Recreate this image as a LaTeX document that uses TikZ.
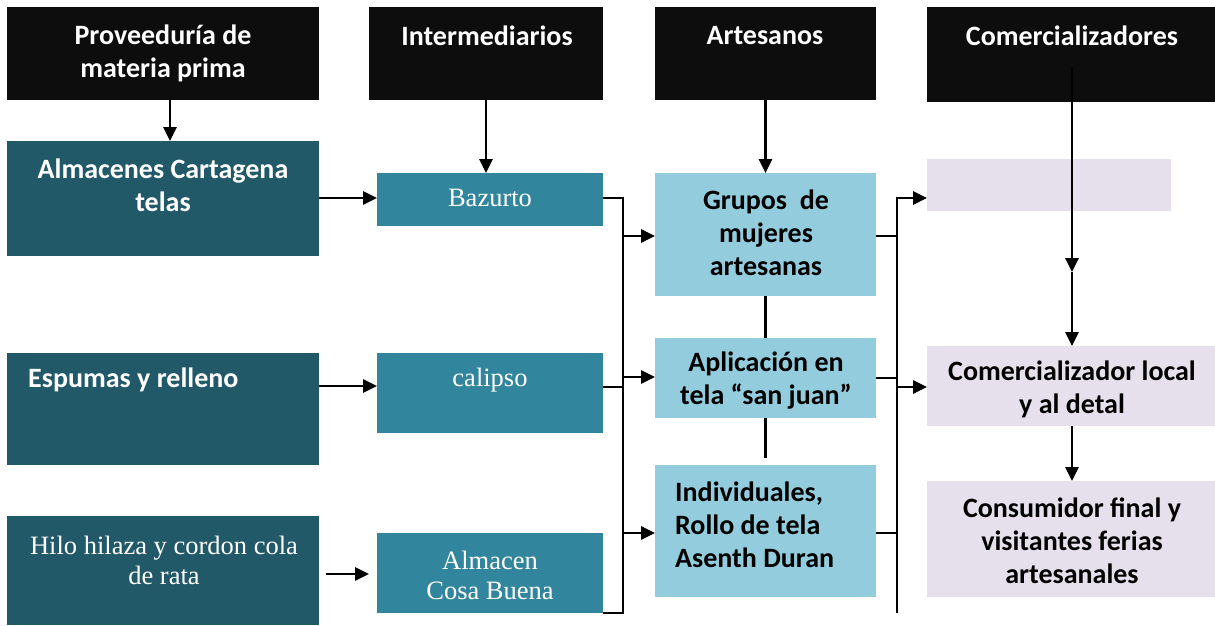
\documentclass[tikz,border=0pt]{standalone}
\usepackage{fontspec}
\setmainfont{Liberation Serif}
\newfontfamily\carl{Carlito}
\usetikzlibrary{arrows.meta}
\definecolor{hdr}{HTML}{0D0D0D}
\definecolor{dteal}{HTML}{215968}
\definecolor{mteal}{HTML}{31859C}
\definecolor{lblue}{HTML}{93CDDD}
\definecolor{lav}{HTML}{E5E0EC}
\begin{document}
\begin{tikzpicture}[x=1pt,y=-1pt,
  box/.style={anchor=north west, inner sep=0pt, outer sep=0pt, draw=none},
  hdrbox/.style={box, fill=hdr},
  dbox/.style={box, fill=dteal},
  mbox/.style={box, fill=mteal},
  lbox/.style={box, fill=lblue},
  vbox/.style={box, fill=lav},
  btxt/.style={font=\carl\bfseries\fontsize{28}{33}\selectfont, align=center, inner sep=0pt},
  wbtxt/.style={btxt, text=white},
  stxt/.style={font=\fontsize{26.5}{30}\selectfont, align=center, inner sep=0pt, text=white},
  ln/.style={line width=2.8pt, draw=black},
  arr/.style={ln, -{Triangle[length=14pt,width=13pt]}}
]
\useasboundingbox (0,0) rectangle (1215,625);
% headers
\node[hdrbox, minimum width=312pt, minimum height=93pt] (h1) at (7,7) {};
\node[hdrbox, minimum width=234pt, minimum height=93pt] (h2) at (369,7) {};
\node[hdrbox, minimum width=221pt, minimum height=93pt] (h3) at (655,7) {};
\node[hdrbox, minimum width=288pt, minimum height=95pt] (h4) at (927,7) {};
% column 1
\node[dbox, minimum width=312pt, minimum height=115pt] (alm) at (7,141) {};
\node[dbox, minimum width=312pt, minimum height=112pt] (esp) at (7,353) {};
\node[dbox, minimum width=312pt, minimum height=109pt] (hil) at (7,516) {};
% column 2
\node[mbox, minimum width=226pt, minimum height=53pt] (baz) at (377,173) {};
\node[mbox, minimum width=226pt, minimum height=80pt] (cal) at (377,353) {};
\node[mbox, minimum width=226pt, minimum height=80pt] (cos) at (377,533) {};
% column 3
\node[lbox, minimum width=221pt, minimum height=123pt] (gru) at (655,173) {};
\node[lbox, minimum width=221pt, minimum height=80pt] (apl) at (655,338) {};
\node[lbox, minimum width=221pt, minimum height=132pt] (ind) at (655,465) {};
% column 4
\node[vbox, minimum width=244pt, minimum height=52pt] (emp) at (927,159) {};
\node[vbox, minimum width=288pt, minimum height=80pt] (com) at (927,346) {};
\node[vbox, minimum width=288pt, minimum height=116pt] (con) at (927,481) {};
% texts
\node[wbtxt] (th1) at (163,53) {Proveeduría de\\materia prima};
\node[wbtxt] (th2) at (487,36) {Intermediarios};
\node[wbtxt] (th3) at (765,36) {Artesanos};
\node[wbtxt] (th4) at (1072,36) {Comercializadores};
\node[wbtxt] (talm) at (163,185) {Almacenes Cartagena\\telas};
\node[wbtxt, anchor=west] (tesp) at (28,380) {Espumas y relleno};
\node[stxt] (thil) at (164,560) {Hilo hilaza y cordon cola\\de rata};
\node[stxt] (tbaz) at (490,198) {Bazurto};
\node[stxt] (tcal) at (490,380) {calipso};
\node[stxt] (tcos) at (490,575) {Almacen\\Cosa Buena};
\node[btxt] (tgru) at (766,233) {Grupos~~de\\mujeres\\artesanas};
\node[btxt] (tapl) at (766,381) {Aplicación en\\tela “san juan”};
\node[btxt, anchor=west, align=left] (tind) at (675,525) {Individuales,\\Rollo de tela\\Asenth Duran};
\node[btxt] (tcom) at (1072,389) {Comercializador local\\y al detal};
\node[btxt] (tcon) at (1072,541) {Consumidor final y\\visitantes ferias\\artesanales};
% header arrows
\draw[arr] ([xshift=7pt]h1.south) -- ([xshift=7pt]alm.north);
\draw[arr] (h2.south) -- (h2.south |- baz.north);
\draw[arr] (h3.south) -- (gru.north);
\coordinate (c4a) at (1072,67);
\coordinate (c4b) at (1072,272);
\draw[arr] (c4a) -- (c4b);
\draw[arr] (c4b) -- (c4b |- com.north);
\draw[arr] (com.south -| c4b) -- (c4b |- con.north);
% column 1 -> 2
\draw[arr] (alm.east |- 0,198) -- (baz.west |- 0,198);
\draw[arr] (esp.east |- 0,386) -- (cal.west |- 0,386);
\draw[arr] (326,574) coordinate (c1s) -- ([xshift=-8pt]cos.west |- c1s);
% left bus
\coordinate (lbt) at (623,198);
\coordinate (lbb) at (623,613);
\draw[ln] (baz.east |- lbt) -- (lbt) -- (lbb) -- (cos.south east);
\draw[ln] (cal.east |- 0,387) -- (lbt |- 0,387);
\draw[arr] (lbt |- 0,236) -- (gru.west |- 0,236);
\draw[arr] (lbt |- 0,377) -- (apl.west |- 0,377);
\draw[arr] (lbt |- 0,533) -- (ind.west |- 0,533);
% artisan vertical links
\draw[ln, line width=2.4pt] (gru.south) -- (apl.north);
\draw[ln, line width=2.4pt] (apl.south) -- ([yshift=7pt]ind.north);
% right bus
\coordinate (rbt) at (897,198);
\coordinate (rbb) at (897,613);
\draw[arr] (rbb) -- (rbt) -- (emp.west |- rbt);
\draw[ln] (gru.east |- 0,236) -- (rbt |- 0,236);
\draw[ln] (apl.east |- 0,378) -- (rbt |- 0,378);
\draw[ln] (ind.east |- 0,533) -- (rbt |- 0,533);
\draw[arr] (rbt |- 0,387) -- (com.west |- 0,387);
\end{tikzpicture}
\end{document}
